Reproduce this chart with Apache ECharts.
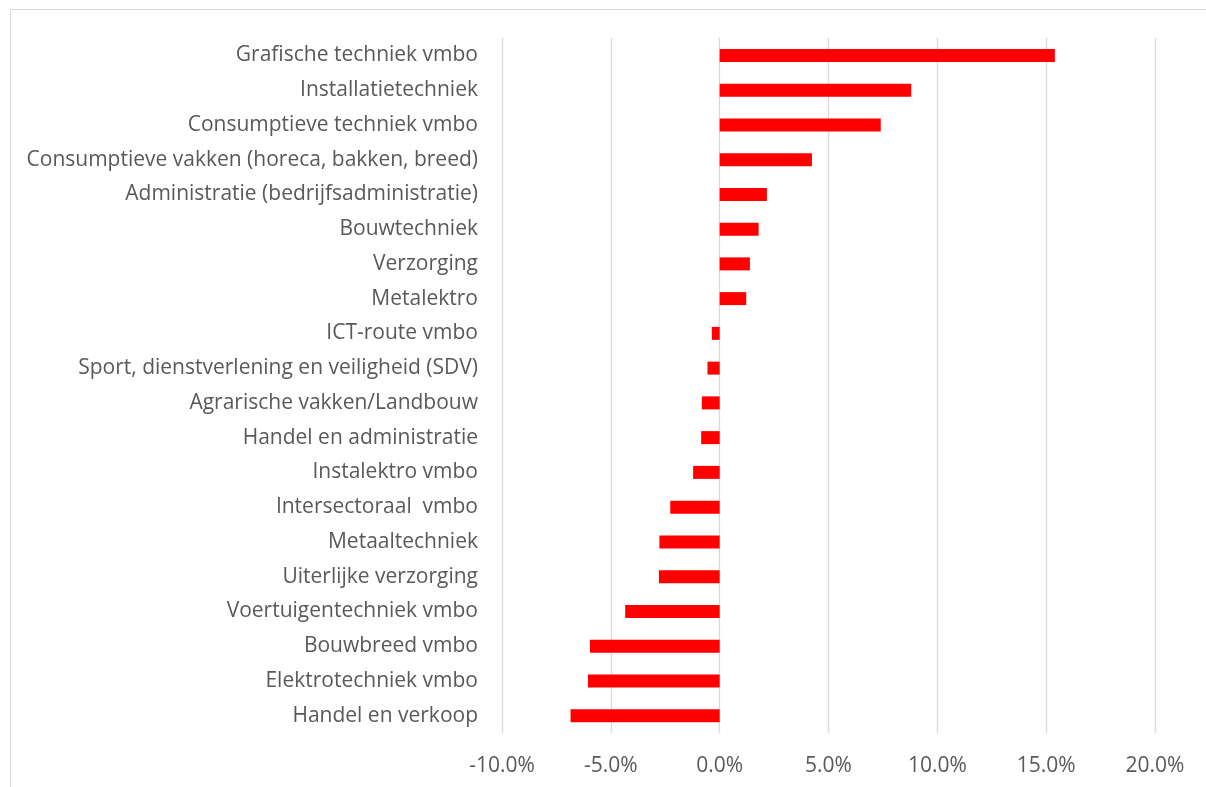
<!DOCTYPE html>
<html>
<head>
<meta charset="utf-8">
<script src="https://cdn.jsdelivr.net/npm/echarts@6/dist/echarts.min.js"></script>
<style>
  html, body { margin: 0; padding: 0; background: #fff; }
  #chart { width: 1206px; height: 787px; }
</style>
</head>
<body>
<div id="chart"></div>
<script>
// categories top to bottom
const categories = [
  'Grafische techniek vmbo',
  'Installatietechniek',
  'Consumptieve techniek vmbo',
  'Consumptieve vakken (horeca, bakken, breed)',
  'Administratie (bedrijfsadministratie)',
  'Bouwtechniek',
  'Verzorging',
  'Metalektro',
  'ICT-route vmbo',
  'Sport, dienstverlening en veiligheid (SDV)',
  'Agrarische vakken/Landbouw',
  'Handel en administratie',
  'Instalektro vmbo',
  'Intersectoraal  vmbo',
  'Metaaltechniek',
  'Uiterlijke verzorging',
  'Voertuigentechniek vmbo',
  'Bouwbreed vmbo',
  'Elektrotechniek vmbo',
  'Handel en verkoop'
]

// change, as fraction
const values = [
  0.154, 0.088, 0.074, 0.0424, 0.0217, 0.0179, 0.0139, 0.0122,
  -0.0036, -0.0056, -0.0082, -0.0085, -0.0122, -0.0227,
  -0.0277, -0.0279, -0.0434, -0.0596, -0.0605, -0.0685
]

const xMin = -0.1
const xMax = 0.2
const xStep = 0.05

const chart = echarts.init(document.getElementById('chart'))

const textColor = '#595959'
const fontFam = '"Open Sans", sans-serif'

chart.setOption({
  animation: false,
  graphic: [
    {
      type: 'rect',
      shape: { x: 10.5, y: 9.5, width: 1210, height: 800 },
      style: { fill: 'none', stroke: '#d9d9d9', lineWidth: 1 },
      silent: true
    }
  ],
  grid: {
    left: 502,
    right: 51,
    top: 38,
    bottom: 54
  },
  xAxis: {
    type: 'value',
    min: xMin,
    max: xMax,
    interval: xStep,
    axisLine: { show: false },
    axisTick: { show: false },
    splitLine: { show: true, lineStyle: { color: '#d9d9d9', width: 1.3 } },
    axisLabel: {
      margin: 23,
      color: textColor,
      fontSize: 21,
      fontFamily: fontFam,
      formatter: v => (v * 100).toFixed(1) + '%'
    }
  },
  yAxis: {
    type: 'category',
    inverse: true,
    data: categories,
    axisLine: { show: false, onZero: false },
    axisTick: { show: false },
    axisLabel: {
      margin: 24,
      color: textColor,
      fontSize: 21,
      fontFamily: fontFam,
      padding: [2, 0, 0, 0]
    }
  },
  series: [
    {
      type: 'bar',
      data: values,
      barWidth: 13,
      itemStyle: { color: '#ff0000' }
    }
  ]
})
</script>
</body>
</html>
